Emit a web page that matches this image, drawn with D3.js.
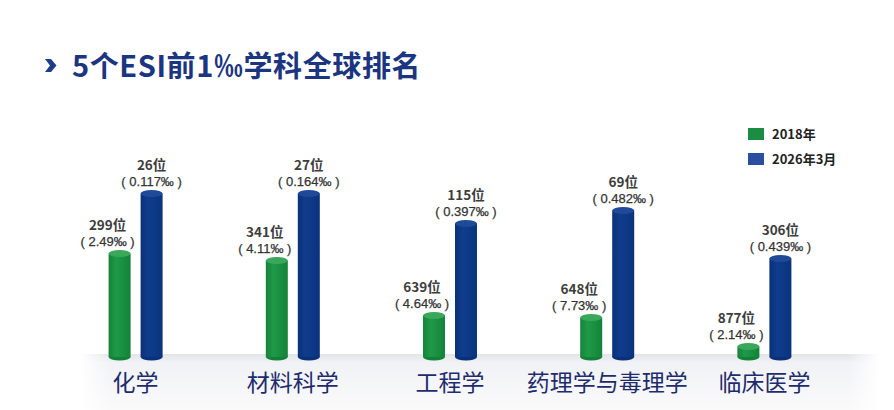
<!DOCTYPE html>
<html>
<head>
<meta charset="utf-8">
<script src="https://cdn.jsdelivr.net/npm/d3@7/dist/d3.min.js"></script>
<style>
  body { margin: 0; background: #fff; }
  #chart { width: 894px; height: 410px; }
  svg { display: block; font-family: "Noto Sans CJK SC", "Noto Sans", sans-serif; }
</style>
</head>
<body>
<div id="chart"></div>
<script>
var subjects = ['化学', '材料科学', '工程学', '药理学与毒理学', '临床医学']
var seriesNames = ['2018年', '2026年3月']
var rank2018 = ['299位', '341位', '639位', '648位', '877位']
var pct2018 = ['2.49‰', '4.11‰', '4.64‰', '7.73‰', '2.14‰']
var rank2026 = ['26位', '27位', '115位', '69位', '306位']
var pct2026 = ['0.117‰', '0.164‰', '0.397‰', '0.482‰', '0.439‰']
// visual bar level as drawn in the picture (not proportional to rank)
var level2018 = [107, 100, 45, 43, 14]
var level2026 = [167, 167, 137, 150, 102]

var width = 894, height = 410
var baseline = 357

var svg = d3.select('#chart').append('svg')
    .attr('width', width)
    .attr('height', height)

var defs = svg.append('defs')

function cylGrad(id, stops) {
    var g = defs.append('linearGradient').attr('id', id)
        .attr('x1', '0%').attr('x2', '100%').attr('y1', '0%').attr('y2', '0%')
    stops.forEach(function(s) {
        g.append('stop').attr('offset', s[0]).attr('stop-color', s[1])
    })
}
cylGrad('gGreen', [['0%', '#16833a'], ['35%', '#1f9a47'], ['100%', '#13823a']])
cylGrad('gBlue', [['0%', '#0a3079'], ['35%', '#0f3d8c'], ['100%', '#0b337d']])

var floorGrad = defs.append('linearGradient').attr('id', 'floor')
    .attr('x1', '0%').attr('x2', '0%').attr('y1', '0%').attr('y2', '100%')
floorGrad.append('stop').attr('offset', '0%').attr('stop-color', '#e2e4e8')
floorGrad.append('stop').attr('offset', '15%').attr('stop-color', '#f1f2f5')
floorGrad.append('stop').attr('offset', '100%').attr('stop-color', '#fafafb')

var floorFade = defs.append('linearGradient').attr('id', 'floorFade')
    .attr('x1', '0%').attr('x2', '100%')
floorFade.append('stop').attr('offset', '0%').attr('stop-color', '#fff').attr('stop-opacity', 1)
floorFade.append('stop').attr('offset', '4%').attr('stop-color', '#fff').attr('stop-opacity', 0)
floorFade.append('stop').attr('offset', '96%').attr('stop-color', '#fff').attr('stop-opacity', 0)
floorFade.append('stop').attr('offset', '100%').attr('stop-color', '#fff').attr('stop-opacity', 1)

// title
svg.append('path')
    .attr('d', 'M45,59 L51,59 L56.5,65.5 L51,72 L45,72 L50,65.5 Z')
    .attr('fill', '#1d3f8a')
svg.append('text')
    .attr('x', 72)
    .attr('y', 77)
    .attr('font-size', 29)
    .attr('font-weight', 700)
    .attr('letter-spacing', 0.6)
    .attr('fill', '#1b3580')
    .text('5个ESI前1‰学科全球排名')

// floor
svg.append('rect').attr('x', 80).attr('y', baseline - 3).attr('width', 800).attr('height', height - baseline + 3)
    .attr('fill', 'url(#floor)')
svg.append('rect').attr('x', 80).attr('y', baseline - 3).attr('width', 800).attr('height', height - baseline + 3)
    .attr('fill', 'url(#floorFade)')

var xScale = d3.scaleBand()
    .domain(subjects)
    .range([57, 843])

var yScale = d3.scaleLinear()
    .domain([0, 170])
    .range([baseline, baseline - 170])

var barW = 22, ry = 3.5, offset = 16

var series = [
    { name: seriesNames[0], levels: level2018, ranks: rank2018, pcts: pct2018, dx: -offset, labelDx: -12,
      fill: 'url(#gGreen)', top: '#3aa85a', bottom: '#13803a', legend: '#1a8d42' },
    { name: seriesNames[1], levels: level2026, ranks: rank2026, pcts: pct2026, dx: offset, labelDx: 0,
      fill: 'url(#gBlue)', top: '#1f4a97', bottom: '#0a3079', legend: '#2a4f9e' }
]

series.forEach(function(s) {
    var g = svg.append('g')
    var items = subjects.map(function(c, i) {
        return { cat: c, level: s.levels[i], rank: s.ranks[i], pct: s.pcts[i] }
    })
    var cx = function(d) { return xScale(d.cat) + xScale.bandwidth() / 2 + s.dx }

    g.selectAll('.bottom').data(items).enter().append('ellipse')
        .attr('cx', cx).attr('cy', baseline).attr('rx', barW / 2).attr('ry', ry)
        .attr('fill', s.bottom)
    g.selectAll('.body').data(items).enter().append('rect')
        .attr('x', function(d) { return cx(d) - barW / 2 })
        .attr('y', function(d) { return yScale(d.level) + ry })
        .attr('width', barW)
        .attr('height', function(d) { return baseline - yScale(d.level) - ry })
        .attr('fill', s.fill)
    g.selectAll('.top').data(items).enter().append('ellipse')
        .attr('cx', cx).attr('cy', function(d) { return yScale(d.level) + ry })
        .attr('rx', barW / 2).attr('ry', ry)
        .attr('fill', s.top)

    g.selectAll('.rank').data(items).enter().append('text')
        .attr('x', function(d) { return cx(d) + s.labelDx })
        .attr('y', function(d) { return yScale(d.level) - 20 })
        .attr('text-anchor', 'middle')
        .attr('font-size', 13.5)
        .attr('font-weight', 700)
        .attr('fill', '#3d3d3d')
        .text(function(d) { return d.rank })
    g.selectAll('.pct').data(items).enter().append('text')
        .attr('x', function(d) { return cx(d) + s.labelDx })
        .attr('y', function(d) { return yScale(d.level) - 4 })
        .attr('text-anchor', 'middle')
        .attr('font-family', '"Liberation Sans", Arial, sans-serif')
        .attr('font-size', 13)
        .attr('fill', '#333')
        .attr('stroke', '#333')
        .attr('stroke-width', 0.25)
        .attr('xml:space', 'preserve')
        .text(function(d) { return '( ' + d.pct + ' )' })
})

// category labels
svg.append('g').selectAll('text').data(subjects).enter().append('text')
    .attr('x', function(d) { return xScale(d) + xScale.bandwidth() / 2 })
    .attr('y', 391)
    .attr('text-anchor', 'middle')
    .attr('font-size', 23)
    .attr('fill', '#1e2c6d')
    .text(function(d) { return d })

// legend
var legend = svg.append('g').selectAll('g').data(series).enter().append('g')
    .attr('transform', function(d, i) { return 'translate(748,' + (128 + i * 25) + ')' })
legend.append('rect').attr('width', 16).attr('height', 12)
    .attr('fill', function(d) { return d.legend })
legend.append('text')
    .attr('x', 24).attr('y', 11)
    .attr('font-size', 13)
    .attr('font-weight', 700)
    .attr('fill', '#222')
    .text(function(d) { return d.name })
</script>
</body>
</html>
